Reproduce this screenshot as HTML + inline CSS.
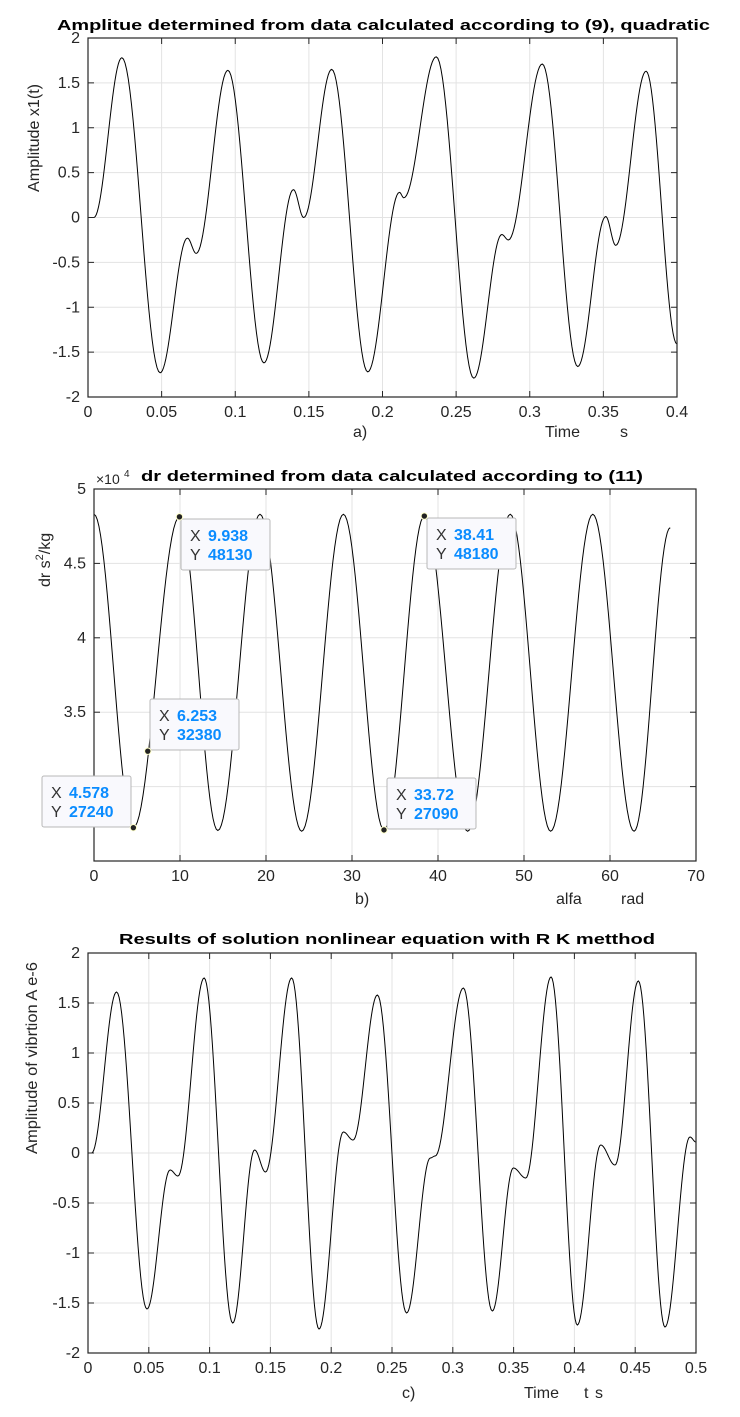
<!DOCTYPE html>
<html><head><meta charset="utf-8"><style>
html,body{margin:0;padding:0;background:#fff}
svg{display:block;font-family:"Liberation Sans",sans-serif}
</style></head><body>
<svg id="s" width="740" height="1417" viewBox="0 0 740 1417"></svg>
<script>
// ---- Panel a data ----
const aTime=[0,0.004,0.023,0.049,0.0675,0.0735,0.095,0.1195,0.1395,0.1465,0.1655,0.190,0.2115,0.2145,0.2365,0.262,0.281,0.2855,0.3085,0.3326,0.3516,0.3584,0.379,0.4];
const aAmp=[0,0,1.78,-1.73,-0.23,-0.4,1.64,-1.62,0.31,0,1.65,-1.72,0.28,0.22,1.79,-1.79,-0.19,-0.25,1.71,-1.66,0.01,-0.31,1.63,-1.41];
const aXTicks=[0,0.05,0.1,0.15,0.2,0.25,0.3,0.35,0.4];
const aYTicks=[-2,-1.5,-1,-0.5,0,0.5,1,1.5,2];
// ---- Panel b data ----
const bAlfa=[0,4.578,9.938,14.4,19.3,24.15,29.0,33.72,38.41,43.45,48.4,53.1,58.0,62.8,67.0];
const bDr=[48300,27240,48130,27050,48300,27000,48300,27090,48180,27000,48300,27000,48300,27000,47400];
const bXTicks=[0,10,20,30,40,50,60,70];
const bYTicks=[30000,35000,40000,45000,50000];
const bYTickLabels=["","3.5","4","4.5","5"];
const bTipX=[4.578,6.253,9.938,38.41,33.72];
const bTipY=[27240,32380,48130,48180,27090];
// ---- Panel c data ----
const cTime=[0,0.003,0.0235,0.0485,0.0675,0.074,0.0955,0.119,0.137,0.146,0.1675,0.19,0.21,0.218,0.238,0.262,0.2815,0.2855,0.3087,0.3325,0.3498,0.36,0.3808,0.4024,0.4216,0.4334,0.4526,0.4745,0.495,0.5];
const cAmp=[0,0,1.61,-1.56,-0.17,-0.23,1.75,-1.7,0.03,-0.19,1.75,-1.76,0.21,0.13,1.58,-1.6,-0.05,-0.03,1.65,-1.58,-0.15,-0.25,1.76,-1.72,0.08,-0.12,1.72,-1.74,0.16,0.11];
const cXTicks=[0,0.05,0.1,0.15,0.2,0.25,0.3,0.35,0.4,0.45,0.5];
const cYTicks=[-2,-1.5,-1,-0.5,0,0.5,1,1.5,2];

const NS="http://www.w3.org/2000/svg";
const svg=document.getElementById('s');
function mk(tag,attrs,parent){const e=document.createElementNS(NS,tag);for(const k in attrs)e.setAttribute(k,attrs[k]);(parent||svg).appendChild(e);return e;}
function txt(str,attrs,parent){const e=mk('text',attrs,parent);e.textContent=str;return e;}

function panel(P){
  const g=mk('g',{});
  
  
  const sx=v=>P.x0+(v-P.xmin)/(P.xmax-P.xmin)*(P.x1-P.x0);
  const sy=v=>P.y1-(v-P.ymin)/(P.ymax-P.ymin)*(P.y1-P.y0);
  P.xt.forEach(v=>{const l=mk('line',{x1:sx(v),x2:sx(v),y1:P.y0,y2:P.y1,stroke:'#e3e3e3','stroke-width':1},g);
    });
  P.yt.forEach(v=>{const l=mk('line',{x1:P.x0,x2:P.x1,y1:sy(v),y2:sy(v),stroke:'#e3e3e3','stroke-width':1},g);
    });
  let d='';
  for(let i=0;i<P.xs.length-1;i++){
    const N=24;
    for(let k=(i?1:0);k<=N;k++){const u=k/N;const x=P.xs[i]+(P.xs[i+1]-P.xs[i])*u;
      const y=P.ys[i]+(P.ys[i+1]-P.ys[i])*(1-Math.cos(Math.PI*u))/2;
      d+=(d?'L':'M')+sx(x).toFixed(2)+','+sy(y).toFixed(2);}
  }
  const c=mk('path',{d:d,fill:'none',stroke:'#000','stroke-width':1},g);
  
  
  const box=mk('rect',{x:P.x0,y:P.y0,width:P.x1-P.x0,height:P.y1-P.y0,fill:'none',stroke:'#262626','stroke-width':1.2},g);
  
  
  P.xt.forEach(v=>{
    mk('line',{x1:sx(v),x2:sx(v),y1:P.y1,y2:P.y1-6,stroke:'#262626'},g);
    mk('line',{x1:sx(v),x2:sx(v),y1:P.y0,y2:P.y0+6,stroke:'#262626'},g);
    const t=txt(String(v),{x:sx(v),y:P.y1+20,'font-size':16,fill:'#262626','text-anchor':'middle'},g);
    
  });
  P.yt.forEach((v,i)=>{
    mk('line',{x1:P.x0,x2:P.x0+6,y1:sy(v),y2:sy(v),stroke:'#262626'},g);
    mk('line',{x1:P.x1,x2:P.x1-6,y1:sy(v),y2:sy(v),stroke:'#262626'},g);
    const lab=P.ytl?P.ytl[i]:String(v);
    const t=txt(lab,{x:P.x0-8,y:sy(v)+5,'font-size':16,fill:'#262626','text-anchor':'end'},g);
    
  });
  return {sx,sy,g};
}

// Panel a
panel({name:'panel-a',x0:88,x1:677,y0:38,y1:397,xmin:0,xmax:0.4,ymin:-2,ymax:2,xt:aXTicks,yt:aYTicks,xs:aTime,ys:aAmp});
let t;
t=txt('Amplitue determined from data calculated according to (9), quadratic',{x:57,y:30,'font-size':15,'font-weight':'bold',textLength:653,lengthAdjust:'spacingAndGlyphs'});

t=txt('Amplitude  x1(t)',{x:0,y:0,'font-size':16,fill:'#262626','text-anchor':'middle',transform:'translate(39,138) rotate(-90)',textLength:108,lengthAdjust:'spacingAndGlyphs'});

t=txt('a)',{x:353,y:437,'font-size':16,fill:'#262626'});

t=txt('Time',{x:545,y:437,'font-size':16,fill:'#262626'});

t=txt('s',{x:620,y:437,'font-size':16,fill:'#262626'});


// Panel b
const B=panel({name:'panel-b',x0:94,x1:696,y0:489,y1:861,xmin:0,xmax:70,ymin:25000,ymax:50000,xt:bXTicks,yt:bYTicks,ytl:bYTickLabels,xs:bAlfa,ys:bDr});
t=txt('dr determined from data calculated according to (11)',{x:141,y:481,'font-size':15,'font-weight':'bold',textLength:502,lengthAdjust:'spacingAndGlyphs'});

t=txt('×10',{x:96,y:484,'font-size':14,fill:'#262626'});

txt('4',{x:124,y:477,'font-size':10,fill:'#262626'});
t=mk('text',{x:0,y:0,'font-size':16,fill:'#262626',transform:'translate(50,587) rotate(-90)'});

t.appendChild(document.createTextNode('dr s'));
const sup=mk('tspan',{dy:-7,'font-size':11},t);sup.textContent='2';
const rest=mk('tspan',{dy:7},t);rest.textContent='/kg';
t=txt('b)',{x:355,y:904,'font-size':16,fill:'#262626'});

t=txt('alfa',{x:556,y:904,'font-size':16,fill:'#262626'});

t=txt('rad',{x:621,y:904,'font-size':16,fill:'#262626'});

const tipBoxX=[42,150,181,427,387];
const tipBoxY=[776,699,519,518,778];
bTipX.forEach((xv,i)=>{
  const g=mk('g',{});
  
  
  mk('rect',{x:tipBoxX[i],y:tipBoxY[i],width:89,height:51,rx:2,fill:'#f9f9fd',stroke:'#b8b8b8','stroke-width':1},g);
  txt('X',{x:tipBoxX[i]+9,y:tipBoxY[i]+22,'font-size':16,fill:'#333'},g);
  txt(String(xv),{x:tipBoxX[i]+27,y:tipBoxY[i]+22,'font-size':16,'font-weight':'bold',fill:'#0a8cff'},g);
  txt('Y',{x:tipBoxX[i]+9,y:tipBoxY[i]+41,'font-size':16,fill:'#333'},g);
  txt(String(bTipY[i]),{x:tipBoxX[i]+27,y:tipBoxY[i]+41,'font-size':16,'font-weight':'bold',fill:'#0a8cff'},g);
  const m=mk('circle',{cx:B.sx(xv),cy:B.sy(bTipY[i]),r:3.2,fill:'#222',stroke:'#ffffcc','stroke-width':1});
  
  
});

// Panel c
panel({name:'panel-c',x0:88,x1:696,y0:953,y1:1353,xmin:0,xmax:0.5,ymin:-2,ymax:2,xt:cXTicks,yt:cYTicks,xs:cTime,ys:cAmp});
t=txt('Results of solution nonlinear equation with R K metthod',{x:119,y:944,'font-size':15,'font-weight':'bold',textLength:536,lengthAdjust:'spacingAndGlyphs'});

t=txt('Amplitude of vibrtion A e-6',{x:0,y:0,'font-size':16,fill:'#262626','text-anchor':'middle',transform:'translate(37,1058) rotate(-90)',textLength:192,lengthAdjust:'spacingAndGlyphs'});

t=txt('c)',{x:402,y:1398,'font-size':16,fill:'#262626'});

t=txt('Time',{x:524,y:1398,'font-size':16,fill:'#262626'});

t=txt('t',{x:584,y:1398,'font-size':16,fill:'#262626'});

t=txt('s',{x:595,y:1398,'font-size':16,fill:'#262626'});

</script>
</body></html>
